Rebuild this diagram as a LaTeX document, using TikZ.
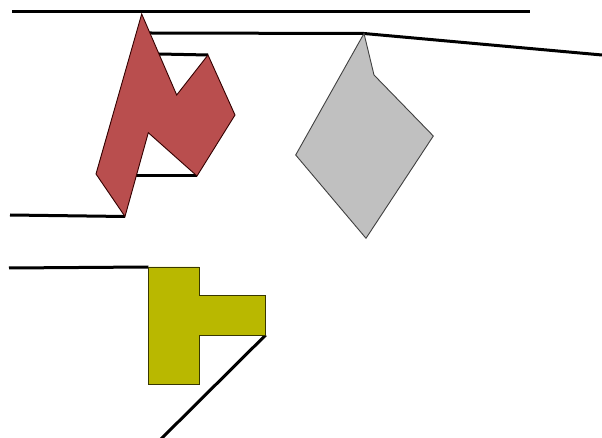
\documentclass[tikz,border=0pt]{standalone}
\begin{document}
\begin{tikzpicture}[x=1pt,y=-1pt,
  wire/.style={line width=3pt,black},
  polyshape/.style={draw=black!80!red,line width=0.9pt,line join=miter}]
\definecolor{redfill}{RGB}{185,78,78}
\definecolor{grayfill}{RGB}{192,192,192}
\definecolor{yellowfill}{RGB}{185,184,0}
\useasboundingbox (0,0) rectangle (602,438);
% connectors
\coordinate (t1) at (12,12);
\coordinate (t2) at (530,12);
\draw[wire] (t1) -- (t2);
\coordinate (s1) at (150,33);
\coordinate (gtop) at (364,33.5);
\coordinate (s3) at (602,55);
\draw[wire] (s1) -- (gtop) -- (s3);
\coordinate (u1) at (159,54);
\coordinate (rC) at (208,55);
\draw[wire] (u1) -- (rC);
\coordinate (v1) at (136,176);
\coordinate (rE) at (197,176);
\draw[wire] (v1) -- (rE);
\coordinate (w1) at (10,215);
\coordinate (rG) at (125,216.5);
\draw[wire] (w1) -- (rG);
\coordinate (y1) at (9,268);
\coordinate (yA) at (148.3,267);
\draw[wire] (y1) -- (yA);
\coordinate (yE) at (265.7,335);
\coordinate (yz) at (160,440);
\draw[wire] (yE) -- (yz);
% red shape
\filldraw[polyshape,fill=redfill] (141.7,14) -- (176.7,95) -- (rC) -- (235,115) -- (rE) -- (148.3,132.7) -- (rG) -- (96,174) -- cycle;
% gray shape
\filldraw[polyshape,draw=black!75,fill=grayfill] (gtop) -- (374,75) -- (433.3,136) -- (366,238.3) -- (295.7,155) -- cycle;
% yellow T
\filldraw[polyshape,draw=black!70!yellowfill,fill=yellowfill] (yA) -- (199,267) -- (199,295.7) -- (265.7,295.7) -- (yE) -- (199,335) -- (199,384) -- (148.3,384) -- cycle;
\end{tikzpicture}
\end{document}
